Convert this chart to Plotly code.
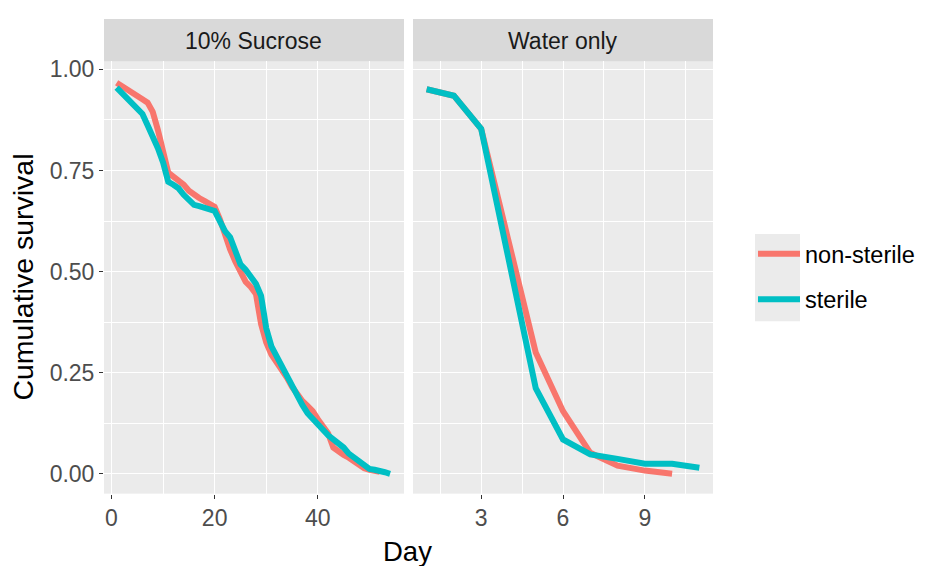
import plotly.graph_objects as go

# ---------------- data ----------------
groups = ["non-sterile", "sterile"]
facets = ["10% Sucrose", "Water only"]

suc_ns_day = list(range(1, 53))
suc_ns_val = [0.967, 0.958, 0.950, 0.942, 0.934, 0.926, 0.918, 0.895, 0.850, 0.800,
              0.745, 0.735, 0.725, 0.715, 0.700, 0.690, 0.682, 0.675, 0.668, 0.660,
              0.630, 0.590, 0.555, 0.525, 0.500, 0.475, 0.462, 0.445, 0.370, 0.325,
              0.295, 0.278, 0.258, 0.238, 0.215, 0.195, 0.180, 0.168, 0.155, 0.135,
              0.120, 0.100, 0.065, 0.055, 0.047, 0.040, 0.030, 0.022, 0.014, 0.010,
              0.008, 0.005]

suc_s_day = list(range(1, 55))
suc_s_val = [0.955, 0.942, 0.930, 0.915, 0.900, 0.890, 0.862, 0.835, 0.805, 0.770,
             0.722, 0.715, 0.706, 0.690, 0.675, 0.665, 0.662, 0.658, 0.655, 0.650,
             0.625, 0.600, 0.585, 0.550, 0.518, 0.505, 0.490, 0.470, 0.440, 0.360,
             0.315, 0.290, 0.265, 0.245, 0.215, 0.190, 0.170, 0.150, 0.135, 0.120,
             0.105, 0.095, 0.085, 0.075, 0.065, 0.050, 0.040, 0.030, 0.020, 0.012,
             0.010, 0.008, 0.004, 0.000]

wat_ns_day = [1, 2, 3, 4, 5, 6, 7, 8, 9, 10]
wat_ns_val = [0.951, 0.935, 0.853, 0.580, 0.300, 0.155, 0.052, 0.020, 0.008, 0.000]

wat_s_day = [1, 2, 3, 4, 5, 6, 7, 8, 9, 10, 11]
wat_s_val = [0.951, 0.935, 0.853, 0.530, 0.212, 0.085, 0.048, 0.037, 0.025, 0.025, 0.015]

y_ticks = [0, 0.25, 0.5, 0.75, 1.0]
y_tick_labels = ["0.00", "0.25", "0.50", "0.75", "1.00"]
x1_ticks = [0, 20, 40]
x2_ticks = [3, 6, 9]

colors = {"non-sterile": "#F8766D", "sterile": "#00BFC4"}

W, H = 925, 566
def px(x):
    return x / W
def py(y):
    return 1 - y / H

FONT = "Liberation Sans, Arial, sans-serif"
LW = 6

fig = go.Figure()

fig.add_trace(go.Scatter(x=suc_ns_day, y=suc_ns_val, mode="lines", name="non-sterile",
                         legendgroup="ns", line=dict(color=colors["non-sterile"], width=LW),
                         xaxis="x", yaxis="y"))
fig.add_trace(go.Scatter(x=wat_ns_day, y=wat_ns_val, mode="lines", name="non-sterile",
                         legendgroup="ns", showlegend=False,
                         line=dict(color=colors["non-sterile"], width=LW),
                         xaxis="x2", yaxis="y2"))
fig.add_trace(go.Scatter(x=suc_s_day, y=suc_s_val, mode="lines", name="sterile",
                         legendgroup="s", line=dict(color=colors["sterile"], width=LW),
                         xaxis="x", yaxis="y"))
fig.add_trace(go.Scatter(x=wat_s_day, y=wat_s_val, mode="lines", name="sterile",
                         legendgroup="s", showlegend=False,
                         line=dict(color=colors["sterile"], width=LW),
                         xaxis="x2", yaxis="y2"))

grid = dict(showgrid=True, gridcolor="white", gridwidth=1.3, zeroline=False,
            showline=False, ticks="outside", ticklen=4, tickwidth=1.1,
            tickcolor="#333333", tickfont=dict(family=FONT, size=23, color="#4D4D4D"))

xl = (px(104), px(404))
xr = (px(413), px(713))
yd = (py(493), py(57))

fig.update_layout(
    width=W, height=H,
    margin=dict(l=0, r=0, t=0, b=0),
    paper_bgcolor="white",
    plot_bgcolor="#EBEBEB",
    xaxis=dict(domain=xl, range=[-1.45, 56.7], tickvals=x1_ticks,
               minor=dict(tickvals=[10, 30, 50], showgrid=True, gridcolor="white",
                          gridwidth=0.6, ticks=""),
               anchor="y", **grid),
    xaxis2=dict(domain=xr, range=[0.5, 11.5], tickvals=x2_ticks,
                minor=dict(tickvals=[1.5, 4.5, 7.5, 10.5], showgrid=True,
                           gridcolor="white", gridwidth=0.6, ticks=""),
                anchor="y2", **grid),
    yaxis=dict(domain=yd, range=[-0.049, 1.0196], tickvals=y_ticks,
               ticktext=y_tick_labels,
               minor=dict(tickvals=[0.125, 0.375, 0.625, 0.875], showgrid=True,
                          gridcolor="white", gridwidth=0.6, ticks=""),
               anchor="x", **grid),
    yaxis2=dict(domain=yd, range=[-0.049, 1.0196], tickvals=y_ticks,
                showticklabels=False, ticks="",
                minor=dict(tickvals=[0.125, 0.375, 0.625, 0.875], showgrid=True,
                           gridcolor="white", gridwidth=0.6, ticks=""),
                anchor="x2", matches="y",
                **{k: v for k, v in grid.items() if k != "ticks"}),
    legend=dict(x=px(753), y=py(229), xanchor="left", yanchor="top",
                bgcolor="rgba(0,0,0,0)", font=dict(family=FONT, size=23.5, color="black"),
                tracegroupgap=12, itemwidth=42),
    font=dict(family=FONT),
)

shapes = []
for (x0, x1) in (xl, xr):
    shapes.append(dict(type="rect", xref="paper", yref="paper", x0=x0, x1=x1,
                       y0=py(57), y1=py(14), fillcolor="#D9D9D9", line=dict(width=0),
                       layer="below"))
shapes.append(dict(type="rect", xref="paper", yref="paper", x0=px(755), x1=px(800),
                   y0=py(319), y1=py(231), fillcolor="#EBEBEB", line=dict(width=0),
                   layer="below"))
fig.update_layout(shapes=shapes)

annotations = []
for (x0, x1), lab in zip((xl, xr), facets):
    annotations.append(dict(text=lab, xref="paper", yref="paper", x=(x0 + x1) / 2,
                            y=py(36), xanchor="center", yanchor="middle",
                            showarrow=False,
                            font=dict(family=FONT, size=23, color="#1A1A1A")))
annotations.append(dict(text="Day", xref="paper", yref="paper", x=px(407.5), y=py(551),
                        xanchor="center", yanchor="middle", showarrow=False,
                        font=dict(family=FONT, size=27.5, color="black")))
annotations.append(dict(text="Cumulative survival", xref="paper", yref="paper",
                        x=px(23), y=py(275), xanchor="center", yanchor="middle",
                        textangle=-90, showarrow=False,
                        font=dict(family=FONT, size=28.5, color="black")))
fig.update_layout(annotations=annotations)

fig.write_html("out.html", config={"displayModeBar": False},
               post_script="document.body.style.margin='0';document.body.style.overflow='hidden';")
